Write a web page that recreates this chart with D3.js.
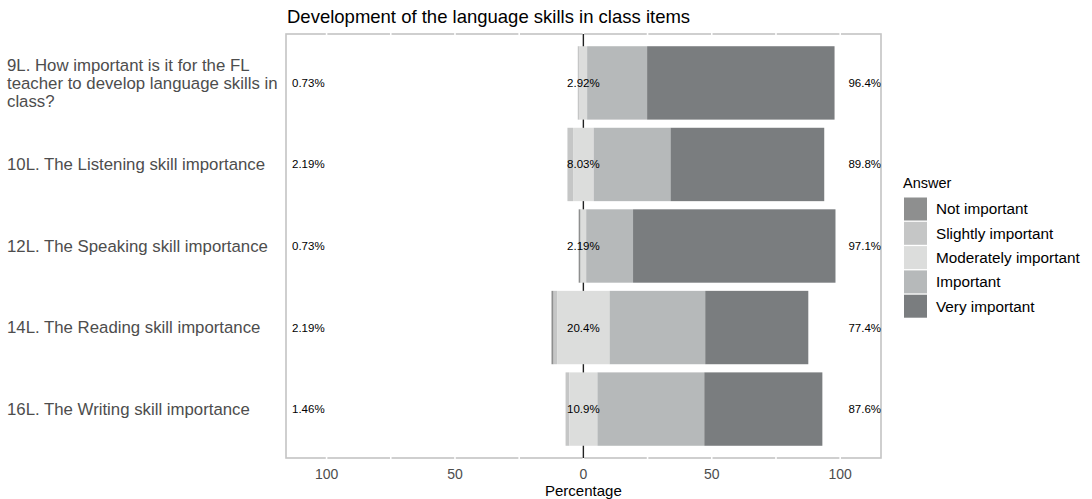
<!DOCTYPE html>
<html><head><meta charset="utf-8">
<script src="https://cdn.jsdelivr.net/npm/d3@7"></script>
<style>body{margin:0;background:#fff;} text{font-family:"Liberation Sans",Arial,sans-serif;}</style>
</head><body><svg id="c" width="1092" height="499"></svg>
<script>
const items = [
  ["9L. How important is it for the FL","teacher to develop language skills in","class?"],
  ["10L. The Listening skill importance"],
  ["12L. The Speaking skill importance"],
  ["14L. The Reading skill importance"],
  ["16L. The Writing skill importance"]
];
const answers = ["Not important","Slightly important","Moderately important","Important","Very important"];
const colors = ["#8e8f8f","#c5c6c6","#dcdddc","#b6b9ba","#7a7d7f"];
const total = 137;
const notImportant = [0,0,1,1,0];
const slightlyImportant = [1,3,0,2,2];
const moderatelyImportant = [4,11,3,28,15];
const important = [32,41,25,51,57];
const veryImportant = [100,82,108,55,63];
const xTicks = [-100,-50,0,50,100];
const gridTicks = [-100,-75,-50,-25,0,25,50,75,100];

const svg = d3.select("#c");
const L=286,R=881,T=34,B=458;
const x = d3.scaleLinear().domain([-115.8,115.9]).range([L,R]);
const s = (B-T)/5.2;
const y = d3.scalePoint().domain(d3.range(5)).range([T+0.6*s,B-0.6*s]);
const bh = 0.9*s;
const pct = v=>v/total*100;

svg.append("rect").attr("x",L).attr("y",T).attr("width",R-L).attr("height",B-T)
  .attr("fill","#fff").attr("stroke","#c4c4c4").attr("stroke-width",1.6);
gridTicks.forEach(t=>{
  svg.append("line").attr("x1",x(t)).attr("x2",x(t)).attr("y1",T-2).attr("y2",B+2)
    .attr("stroke","#fff").attr("stroke-width",1.6);
});
svg.append("line").attr("x1",x(0)).attr("x2",x(0)).attr("y1",T).attr("y2",B)
  .attr("stroke","#222").attr("stroke-width",1.4);

const series=[notImportant,slightlyImportant,moderatelyImportant,important,veryImportant];
const fmt = d3.format(".3~r");
for(let i=0;i<5;i++){
  const v = series.map(a=>pct(a[i]));
  const segs=[];
  const pos = -v[2]/2;
  segs.push([pos-v[1],pos,1]);
  segs.push([pos-v[1]-v[0],pos-v[1],0]);
  const p2=v[2]/2;
  segs.push([-v[2]/2,v[2]/2,2]);
  segs.push([p2,p2+v[3],3]);
  segs.push([p2+v[3],p2+v[3]+v[4],4]);
  const cy=y(i);
  segs.forEach(([a,b,k])=>{
    if(b-a<=0) return;
    svg.append("rect").attr("x",x(a)).attr("width",x(b)-x(a))
      .attr("y",cy-bh/2).attr("height",bh).attr("fill",colors[k]);
  });
  const low=v[0]+v[1], neu=v[2], high=v[3]+v[4];
  svg.append("text").attr("x",292).attr("y",cy).attr("dy","0.35em").attr("font-size",11.5).text(fmt(low)+"%");
  svg.append("text").attr("x",x(0)).attr("y",cy).attr("dy","0.35em").attr("font-size",11.5).attr("text-anchor","middle").text(fmt(neu)+"%");
  svg.append("text").attr("x",R).attr("y",cy).attr("dy","0.35em").attr("font-size",11.5).attr("text-anchor","end").text(fmt(high)+"%");
  const lines=items[i];
  const g=svg.append("text").attr("font-size",16.8).attr("fill","#4d4d4d").attr("text-anchor","start");
  const lh=18.2;
  lines.forEach((ln,j)=>{
    g.append("tspan").attr("x",7).attr("y",cy+(j-(lines.length-1)/2)*lh).attr("dy","0.35em").text(ln);
  });
}

xTicks.forEach(t=>{
  svg.append("text").attr("x",x(t)).attr("y",474).attr("dy","0.35em").attr("text-anchor","middle")
    .attr("font-size",14).attr("fill","#4d4d4d").text(Math.abs(t));
});
svg.append("text").attr("x",x(0)).attr("y",491).attr("dy","0.35em").attr("text-anchor","middle")
  .attr("font-size",15).attr("fill","#000").text("Percentage");
svg.append("text").attr("x",287).attr("y",23).attr("font-size",18.5).attr("fill","#000")
  .text("Development of the language skills in class items");

svg.append("text").attr("x",903).attr("y",188).attr("font-size",14.5).text("Answer");
answers.forEach((a,k)=>{
  const yy=197.5+k*24.3;
  svg.append("rect").attr("x",904).attr("y",yy).attr("width",23).attr("height",23).attr("fill",colors[k]);
  svg.append("text").attr("x",936).attr("y",yy+11.5).attr("dy","0.35em").attr("font-size",15.3).text(a);
});
</script></body></html>
